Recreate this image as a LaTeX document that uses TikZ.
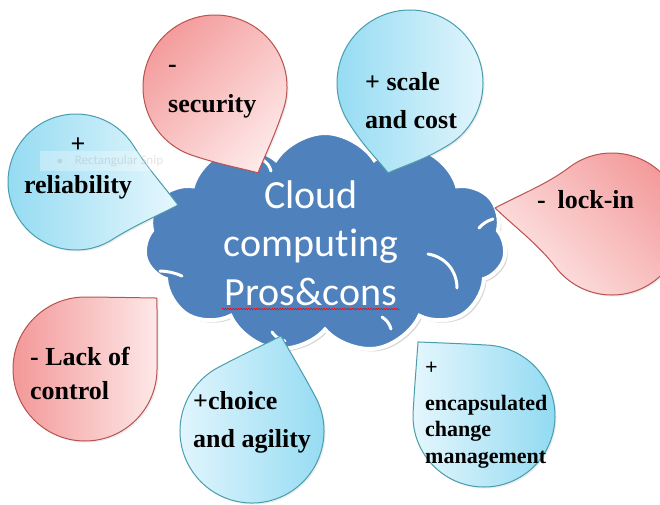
\documentclass[tikz,border=0pt]{standalone}
\usepackage{fontspec}
\setmainfont{Liberation Serif}
\newfontfamily\calibri[Ligatures={NoCommon,NoRare}]{Carlito}
\usetikzlibrary{calc,shapes.symbols,shadows,decorations.pathmorphing}

\definecolor{cloudblue}{RGB}{79,129,189}
\definecolor{negline}{RGB}{185,83,80}
\definecolor{negdark}{RGB}{243,152,152}
\definecolor{neglight}{RGB}{254,232,232}
\definecolor{posline}{RGB}{72,158,175}
\definecolor{posdark}{RGB}{145,218,242}
\definecolor{poslight}{RGB}{230,247,253}

\tikzset{
  negdrop/.style={draw=negline, line width=1pt, top color=negdark, bottom color=neglight,
    drop shadow={opacity=0.15, shadow xshift=1.5pt, shadow yshift=-1.5pt}},
  posdrop/.style={draw=posline, line width=1pt, top color=posdark, bottom color=poslight,
    drop shadow={opacity=0.15, shadow xshift=1.5pt, shadow yshift=-1.5pt}},
  droptext/.style={font=\bfseries\fontsize{26}{34}\selectfont, inner sep=0pt, align=left, anchor=base west},
  puff/.style={white, line width=3pt, line cap=round},
}

% teardrop: centre, radius, tip angle, tip distance, style
\newcommand{\tear}[5]{%
  \coordinate (tA) at ($(#1)+(#3+45:#2)$);
  \coordinate (tB) at ($(#1)+(#3-45:#2)$);
  \coordinate (tT) at ($(#1)+(#3:#4)$);
  \path[#5] (tA) arc[start angle=#3+45, delta angle=270, radius=#2]
    .. controls +(#3+45:#2*0.4) and ($(tT)!0.3!(tB)$) .. (tT)
    .. controls ($(tT)!0.3!(tA)$) and +(#3-45:#2*0.4) .. (tA) -- cycle;
}

\begin{document}
\begin{tikzpicture}[x=1pt,y=-1pt]
  \useasboundingbox (0,0) rectangle (660,504);
  \fill[white] (0,0) rectangle (660,504);
  \clip (0,0) rectangle (660,504);
  %\draw[help lines,step=20](0,0) grid (660,504);

  % the cloud
  \draw (325,243) node[cloud, cloud puffs=11, cloud puff arc=115, cloud ignores aspect,
    minimum width=362pt, minimum height=220pt, fill=cloudblue, draw=white, line width=4pt,
    drop shadow={opacity=0.3, shadow xshift=2.5pt, shadow yshift=-2.5pt}] (cl) {};
  \draw[puff] (263,160) to[bend left=20] (271,171);
  \draw[puff] (160,271) to[bend left=10] (182,276);
  \draw[puff] (428,254) to[bend left=40] (457,288);
  \draw[puff] (479,228) to[bend left=15] (493,219);
  \draw[puff] (272,332) to[bend right=20] (285,341);
  \draw[puff] (382,317) to[bend left=20] (391,329);
  \draw (311,305) node[inner sep=0pt, anchor=base, align=center, text=white,
    font=\calibri\fontsize{40}{48.5}\selectfont] (title) {Cloud\\computing\\Pros\&cons};
  \coordinate (ulA) at (222,309);
  \coordinate (ulB) at (400,309);
  \draw[red, line width=0.5pt, decorate, decoration={snake, amplitude=0.8pt, segment length=2.6pt}] (ulA) -- (ulB);

  % the drops
  \tear{215,87}{72}{63.4}{96}{negdrop, shading angle=45}
  \tear{76,182}{68}{12.7}{104.6}{posdrop, shading angle=90}
  \tear{410,83}{73}{103.7}{92.6}{posdrop, shading angle=90}
  \tear{612,224}{71}{187.8}{118}{negdrop, shading angle=-45}
  \tear{85,369}{72}{-44.6}{101.1}{negdrop, shading angle=90}
  \tear{252,431}{72}{-73}{99.3}{posdrop, shading angle=-90}
  \tear{484,416}{71}{-131.7}{99.2}{posdrop, shading angle=-90}

  \draw (168,112) node[droptext] (sec) {-\\[6pt]security};
  \draw (78,193) node[droptext, align=center, anchor=base] (rel) {+\\[7pt]reliability};
  \draw (365,128) node[droptext] (scl) {+ scale\\[4pt]and cost};
  \draw (537,208) node[droptext] (lck) {-\hspace{0.45em}lock-in};
  \draw (30,399) node[droptext] (ctl) {- Lack of\\control};
  \draw (193,447) node[droptext] (chc) {+choice\\[4pt]and agility};
  \draw (425,463) node[droptext, font=\bfseries\fontsize{22}{26.5}\selectfont] (enc)
    {+\\[9.5pt]encapsulated\\change\\management};

  % faint tooltip left over on the slide
  \draw (110,161) node[fill=white, fill opacity=0.3, text opacity=0.22, text=gray,
    minimum width=140pt, minimum height=20pt, font=\calibri\fontsize{13}{15}\selectfont] (snip)
    {$\bullet$\hspace{12pt}Rectangular Snip};
\end{tikzpicture}
\end{document}
